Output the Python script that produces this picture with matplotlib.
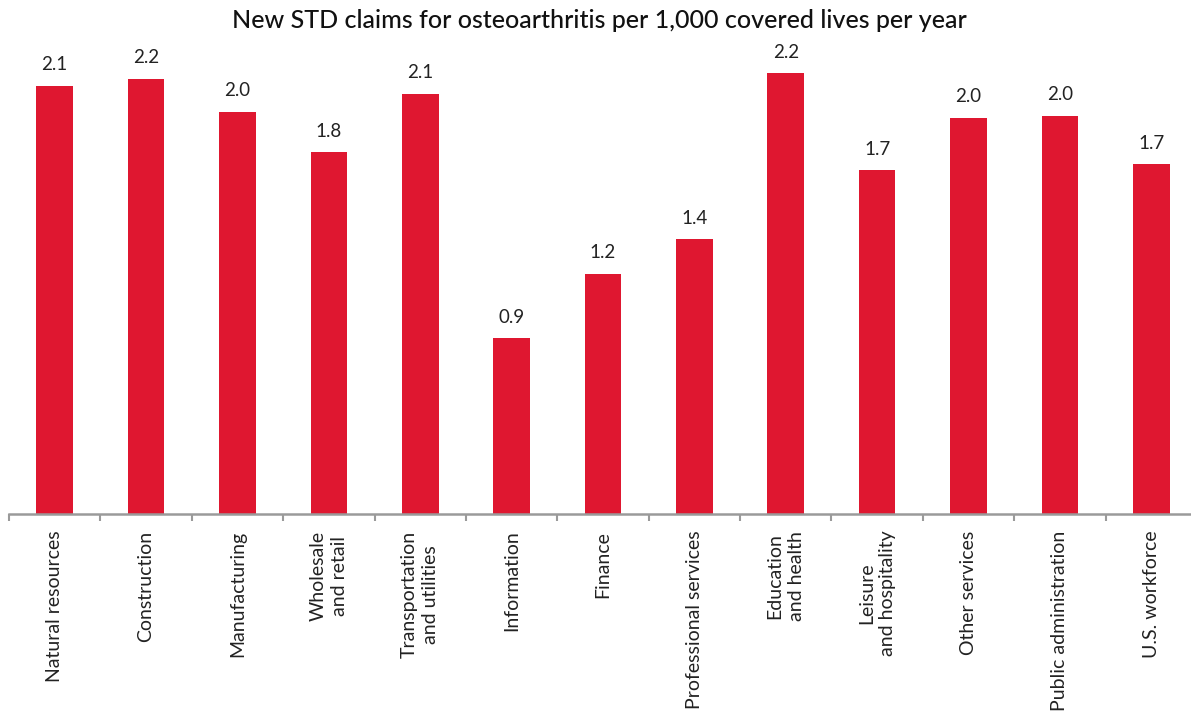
import matplotlib.pyplot as plt

# STD claims for osteoarthritis by industry
categories = [
    "Natural resources", "Construction", "Manufacturing", "Wholesale\nand retail",
    "Transportation\nand utilities", "Information", "Finance", "Professional services",
    "Education\nand health", "Leisure\nand hospitality", "Other services",
    "Public administration", "U.S. workforce",
]
claims = [2.12, 2.155, 1.99, 1.79, 2.08, 0.87, 1.19, 1.36, 2.18, 1.70, 1.96, 1.97, 1.73]

BAR_COLOR = "#DF1730"
AXIS_COLOR = "#9a9a9a"

plt.rcParams["font.family"] = ["Lato", "DejaVu Sans"]

fig = plt.figure(figsize=(11.91, 7.15), dpi=100)
ax = fig.add_axes([9 / 1191, 1 - 514 / 715, 1188 / 1191, 485 / 715])

x = range(len(categories))
bars = ax.bar(x, claims, width=0.4, color=BAR_COLOR, zorder=2)

for b, v in zip(bars, claims):
    ax.annotate(f"{v:.1f}", (b.get_x() + b.get_width() / 2, v),
                xytext=(0, 9), textcoords="offset points",
                ha="center", va="bottom", fontsize=13.5, color="#222222")

ax.set_xlim(-0.5, len(categories) - 0.5)
ax.set_ylim(0, 2.4)

# category boundary ticks on the baseline
ax.set_xticks([i - 0.5 for i in range(len(categories) + 1)])
ax.set_xticklabels([])
ax.set_xticks(list(x), minor=True)
ax.set_xticklabels(categories, minor=True, rotation=90, ha="center", va="top",
                   multialignment="center", linespacing=1.3, fontsize=14, color="#222222")
ax.tick_params(axis="x", which="major", length=5, width=1.5, color=AXIS_COLOR)
ax.tick_params(axis="x", which="minor", length=0, pad=12)
ax.set_yticks([])

for side in ("top", "right", "left"):
    ax.spines[side].set_visible(False)
ax.spines["bottom"].set_color(AXIS_COLOR)
ax.spines["bottom"].set_linewidth(1.8)

fig.text(0.503, 1 - 21 / 715, "New STD claims for osteoarthritis per 1,000 covered lives per year",
         ha="center", va="center", fontsize=18, fontweight="medium", color="#111111")

fig.savefig("out.png", dpi=100)
